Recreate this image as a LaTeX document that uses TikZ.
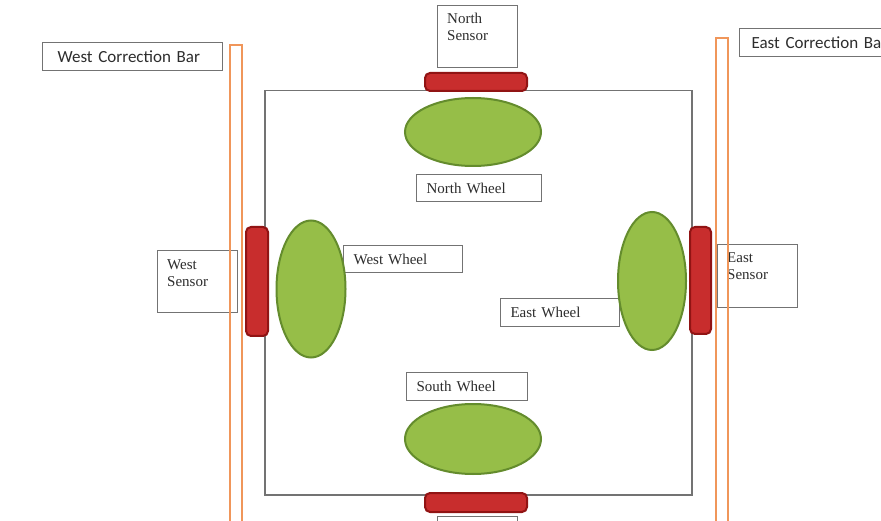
\documentclass[tikz,border=0pt]{standalone}
\usepackage{fontspec}
\setmainfont{Liberation Serif}
\newfontfamily\barfont{Carlito}
\usetikzlibrary{shapes.geometric}

\definecolor{boxgray}{RGB}{115,115,115}
\definecolor{inkgray}{RGB}{45,45,45}
\definecolor{wheelfill}{RGB}{150,190,72}
\definecolor{wheeledge}{RGB}{100,140,45}
\definecolor{sensorfill}{RGB}{200,45,45}
\definecolor{sensoredge}{RGB}{145,20,20}
\definecolor{barorange}{RGB}{240,150,90}

\begin{document}
\begin{tikzpicture}[x=1pt,y=-1pt,
  chassis/.style={draw=boxgray, line width=1.5pt, rectangle, inner sep=0pt},
  wheel/.style={ellipse, draw=wheeledge, fill=wheelfill, line width=2pt, inner sep=0pt},
  sensor/.style={rectangle, rounded corners=5pt, draw=sensoredge, fill=sensorfill, line width=2pt, inner sep=0pt},
  corrbar/.style={rectangle, draw=barorange, line width=1.6pt, inner sep=0pt, anchor=north west, minimum width=12pt, minimum height=520pt},
  tag/.style={draw=boxgray, fill=white, line width=1.1pt, rectangle, anchor=north west,
    inner xsep=10pt, inner ysep=0pt, align=left, text=inkgray,
    font=\fontsize{15}{17}\selectfont},
  senbox/.style={draw=boxgray, line width=1.1pt, rectangle, anchor=north west, inner sep=0pt,
    minimum width=80pt, minimum height=62pt},
  sentext/.style={anchor=north west, inner sep=0pt, align=left, text=inkgray,
    font=\fontsize{15}{17}\selectfont},
  bartag/.style={draw=boxgray, fill=white, line width=1.1pt, rectangle, anchor=north west,
    inner xsep=0pt, inner ysep=0pt, minimum height=28pt, text=inkgray,
    font=\barfont\fontsize{17}{19}\selectfont}]
\useasboundingbox (0,0) rectangle (881,521);
\clip (0,0) rectangle (881,521);
\fill[white] (0,0) rectangle (881,521);

% robot body
\node[chassis, anchor=north west, minimum width=427pt, minimum height=404pt] (body) at (264,90) {};

% wheel labels
\node[tag, text width=105pt, minimum height=27pt] (nwtag) at (416,174) {North Wheel};
\node[tag, text width=99pt, minimum height=27pt] (wwtag) at (343,245) {West Wheel};
\node[tag, text width=99pt, minimum height=28pt] (ewtag) at (500,298) {East Wheel};
\node[tag, text width=101pt, minimum height=28pt] (swtag) at (406,372) {South Wheel};

% wheels
\node[wheel, minimum width=136pt, minimum height=68pt] (nwheel) at (473,132) {};
\node[wheel, minimum width=69pt, minimum height=137pt] (wwheel) at (311,289) {};
\node[wheel, minimum width=68pt, minimum height=138pt] (ewheel) at (652,281) {};
\node[wheel, minimum width=136pt, minimum height=70pt] (swheel) at (473,439) {};

% sensors
\node[sensor, minimum width=102pt, minimum height=18pt] (nsensor) at (476,82) {};
\node[sensor, minimum width=22pt, minimum height=109pt] (wsensor) at (257,281.5) {};
\node[sensor, minimum width=21pt, minimum height=107pt] (esensor) at (700.5,280.5) {};
\node[sensor, minimum width=102pt, minimum height=19pt] (ssensor) at (476,502.5) {};

% sensor labels
\node[senbox] (nsbox) at (437,5) {};
\node[sentext] (nstext) at ([shift={(10,8)}]nsbox.north west) {North\\Sensor};
\node[senbox] (wsbox) at (157,250) {};
\node[sentext] (wstext) at ([shift={(10,9)}]wsbox.north west) {West\\Sensor};
\node[senbox, minimum height=63pt] (esbox) at (717,244) {};
\node[sentext] (estext) at ([shift={(10,8)}]esbox.north west) {East\\Sensor};
\node[senbox] (ssbox) at (437,516) {};

% correction bars (the east one runs past the right edge)
\node[bartag, minimum width=180pt, text width=150pt, align=left, inner xsep=15pt] (wbartag) at (42,42) {West Correction Bar};
\node[bartag, minimum width=200pt, text width=176pt, align=left, inner xsep=12pt] (ebartag) at (739,28) {East Correction Bar};
\node[corrbar] (wbar) at (229,44) {};
\node[corrbar] (ebar) at (715,37) {};
\end{tikzpicture}
\end{document}
